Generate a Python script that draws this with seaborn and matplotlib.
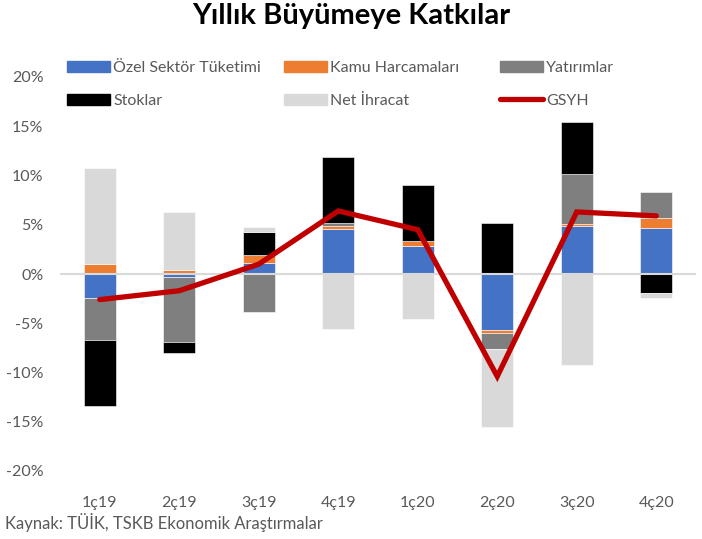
import numpy as np
import matplotlib
matplotlib.use("Agg")
import matplotlib.pyplot as plt
import seaborn as sns
from matplotlib.patches import Patch
from matplotlib.lines import Line2D


quarters = ["1ç19", "2ç19", "3ç19", "4ç19", "1ç20", "2ç20", "3ç20", "4ç20"]

ozel = [-2.4, -0.3, 1.1, 4.6, 2.8, -5.7, 4.9, 4.7]
kamu = [1.0, 0.45, 0.8, 0.3, 0.5, -0.3, 0.2, 1.0]
yatirim = [-4.3, -6.6, -3.85, 0.25, 0.0, -1.6, 5.05, 2.6]
stoklar = [-6.7, -1.15, 2.4, 6.75, 5.75, 5.2, 5.3, -1.9]
net_ihracat = [9.8, 5.85, 0.5, -5.55, -4.6, -7.9, -9.2, -0.55]
gsyh = [-2.6, -1.7, 1.0, 6.4, 4.5, -10.4, 6.3, 5.9]

series = [
    ("Özel Sektör Tüketimi", ozel, "#4472C4"),
    ("Kamu Harcamaları", kamu, "#ED7D31"),
    ("Yatırımlar", yatirim, "#7F7F7F"),
    ("Stoklar", stoklar, "#000000"),
    ("Net İhracat", net_ihracat, "#D9D9D9"),
]

sns.set_theme(style="white")
plt.rcParams["font.family"] = ["Lato", "DejaVu Sans"]

fig = plt.figure(figsize=(7.02, 5.39), dpi=100)
ax = fig.add_axes([60 / 702, 1 - 471 / 539, 636 / 702, 394 / 539])

# excel-style stacking: positives go up, negatives go down
pos_base = np.zeros(len(quarters))
neg_base = np.zeros(len(quarters))
for name, vals, color in series:
    vals = np.array(vals, dtype=float)
    bottom = np.where(vals >= 0, pos_base, neg_base)
    sns.barplot(x=quarters, y=vals, bottom=bottom, color=color, width=0.40,
                errorbar=None, edgecolor="white", linewidth=0.4, ax=ax,
                saturation=1)
    pos_base = pos_base + np.clip(vals, 0, None)
    neg_base = neg_base + np.clip(vals, None, 0)

ax.axhline(0, color="#D9D9D9", linewidth=1.5, zorder=1)

sns.lineplot(x=np.arange(len(quarters)), y=gsyh, sort=False, color="#C00000",
             linewidth=3.8, solid_capstyle="round", solid_joinstyle="miter",
             ax=ax, zorder=5)

ax.set_xlim(-0.5, len(quarters) - 0.5)
ax.set_ylim(-20, 20)
ax.set_yticks(range(-20, 21, 5))
ax.set_yticklabels([f"{t}%" for t in range(-20, 21, 5)])
ax.set_xticks(range(len(quarters)))
ax.set_xticklabels(quarters)
ax.tick_params(axis="y", length=0, pad=12, labelsize=11.5, labelcolor="#595959")
ax.tick_params(axis="x", length=0, pad=18, labelsize=11.5, labelcolor="#595959")
ax.set_xlabel("")
ax.set_ylabel("")
sns.despine(ax=ax, left=True, bottom=True)

# legend: three fixed columns like excel
handles = [Patch(color=c) for _, _, c in series]
handles.append(Line2D([], [], color="#C00000", linewidth=3.8, solid_capstyle="round"))
labels = [s[0] for s in series] + ["GSYH"]
cols = [(0, 3), (1, 4), (2, 5)]
col_x = [67, 284, 500]
for (i, j), x in zip(cols, col_x):
    fig.legend([handles[i], handles[j]], [labels[i], labels[j]],
               loc="upper left", bbox_to_anchor=(x / 702, 1 - 61 / 539),
               frameon=False, fontsize=11.5, handlelength=2.7, handleheight=0.7,
               handletextpad=0.2, labelspacing=1.15, borderpad=0, borderaxespad=0,
               labelcolor="#595959")

fig.text(0.5, 1 - 16 / 539, "Yıllık Büyümeye Katkılar", ha="center", va="center",
         fontsize=21, fontweight="bold", color="black")
fig.text(5 / 702, 1 - 522 / 539, "Kaynak: TÜİK, TSKB Ekonomik Araştırmalar",
         ha="left", va="center", fontsize=12, color="#595959")

fig.savefig("out.png", dpi=100)
